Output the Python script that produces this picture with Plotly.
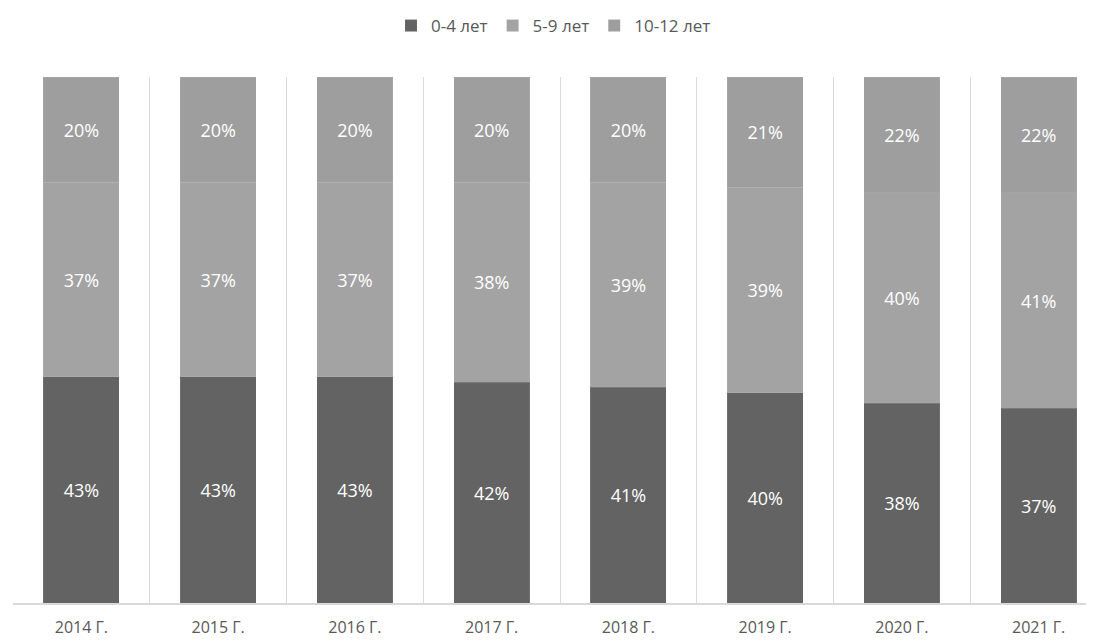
import plotly.graph_objects as go

years = ["2014 Г.", "2015 Г.", "2016 Г.", "2017 Г.", "2018 Г.", "2019 Г.", "2020 Г.", "2021 Г."]
series_names = ["0-4 лет", "5-9 лет", "10-12 лет"]
age_0_4 = [43, 43, 43, 42, 41, 40, 38, 37]
age_5_9 = [37, 37, 37, 38, 39, 39, 40, 41]
age_10_12 = [20, 20, 20, 20, 20, 21, 22, 22]
colors = ["#636363", "#a3a3a3", "#9e9e9e"]

fig = go.Figure()
for name, vals, col in zip(series_names, [age_0_4, age_5_9, age_10_12], colors):
    fig.add_trace(go.Bar(
        x=years, y=vals, name=name,
        marker=dict(color=col, line=dict(color="rgba(255,255,255,0.08)", width=1)),
        text=[f"{v}%" for v in vals], textposition="inside",
        insidetextanchor="middle",
        textfont=dict(color="white", size=18, family="Open Sans"),
        hoverinfo="skip",
    ))

fig.update_layout(
    barmode="stack",
    bargap=0.444,
    width=1086, height=634,
    margin=dict(l=5, r=0, t=69, b=39),
    paper_bgcolor="white", plot_bgcolor="white",
    font=dict(family="Open Sans", color="#595959"),
    legend=dict(orientation="h", x=0.5, xanchor="center", y=1.0, yref="container",
                yanchor="top", font=dict(size=17, color="#595959"),
                traceorder="normal", itemwidth=30),
    uniformtext=dict(mode="show", minsize=10),
)
fig.update_xaxes(
    range=[-0.5, 7.5 - 13 / 136.7],
    tickson="boundaries", showgrid=True, gridcolor="#d9d9d9", gridwidth=1,
    showline=True, linecolor="#d9d9d9", linewidth=1.5,
    ticks="", tickfont=dict(size=16, color="#595959"),
    ticklabelstandoff=9,
)
fig.update_yaxes(range=[0, 100], showgrid=False, showticklabels=False, zeroline=False)

fig.write_html("out.html")
